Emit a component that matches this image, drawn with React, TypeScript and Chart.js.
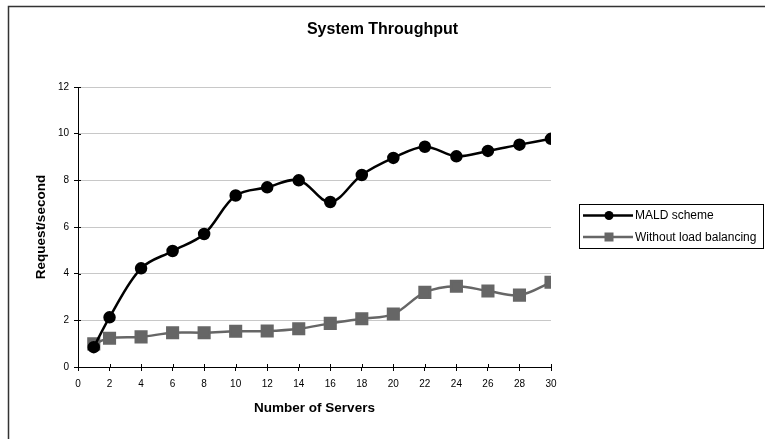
import React, { useEffect, useRef } from "react";
import { Chart, registerables } from "chart.js";

Chart.register(...registerables);

// Number of servers at which throughput was measured
const servers = [1, 2, 4, 6, 8, 10, 12, 14, 16, 18, 20, 22, 24, 26, 28, 30];
// Requests per second for each scheme
const maldScheme = [0.85, 2.13, 4.23, 4.97, 5.7, 7.35, 7.7, 8.0, 7.07, 8.23, 8.96, 9.44, 9.03, 9.26, 9.53, 9.78];
const withoutBalancing = [0.99, 1.23, 1.29, 1.47, 1.47, 1.53, 1.54, 1.64, 1.87, 2.07, 2.27, 3.2, 3.46, 3.26, 3.08, 3.63];
const seriesNames = ["MALD scheme", "Without load balancing"];
const chartTitle = "System Throughput";
const xTitle = "Number of Servers";
const yTitle = "Request/second";

const FONT = "'Liberation Sans', Arial, sans-serif";

// Tick marks that also reach a few pixels inside the plot
const innerTicks = {
  id: "innerTicks",
  afterDatasetsDraw(chart: any) {
    const { ctx, chartArea, scales } = chart;
    ctx.save();
    ctx.strokeStyle = "#000";
    ctx.lineWidth = 1;
    ctx.beginPath();
    scales.x.ticks.forEach((t: any) => {
      const px = Math.round(scales.x.getPixelForValue(t.value)) + 0.5;
      ctx.moveTo(px, chartArea.bottom);
      ctx.lineTo(px, chartArea.bottom - 3);
    });
    scales.y.ticks.forEach((t: any) => {
      const py = Math.round(scales.y.getPixelForValue(t.value)) + 0.5;
      ctx.moveTo(chartArea.left, py);
      ctx.lineTo(chartArea.left + 3, py);
    });
    ctx.stroke();
    ctx.restore();
  },
};

// Frame, title and legend drawn around the plot
const decorations = {
  id: "decorations",
  afterDraw(chart: Chart) {
    const { ctx } = chart;
    ctx.save();
    // outer chart frame
    ctx.strokeStyle = "#333";
    ctx.lineWidth = 1.5;
    ctx.strokeRect(8.5, 6.5, 800, 500);

    // title
    ctx.fillStyle = "#000";
    ctx.font = `bold 16px ${FONT}`;
    ctx.textAlign = "center";
    ctx.textBaseline = "middle";
    ctx.fillText(chartTitle, 382.5, 30);

    // legend
    const bx = 579.5, by = 204.5, bw = 184, bh = 44;
    ctx.strokeStyle = "#000";
    ctx.lineWidth = 1;
    ctx.fillStyle = "#fff";
    ctx.fillRect(bx, by, bw, bh);
    ctx.strokeRect(bx, by, bw, bh);
    ctx.font = `12px ${FONT}`;
    ctx.textAlign = "left";
    chart.data.datasets.forEach((ds: any, i: number) => {
      const y = by + 11 + i * 21.5;
      ctx.strokeStyle = ds.borderColor;
      ctx.lineWidth = ds.borderWidth;
      ctx.beginPath();
      ctx.moveTo(583, y);
      ctx.lineTo(633, y);
      ctx.stroke();
      ctx.fillStyle = ds.pointBackgroundColor;
      if (ds.pointStyle === "circle") {
        ctx.beginPath();
        ctx.arc(609, y, 4.5, 0, Math.PI * 2);
        ctx.fill();
      } else {
        ctx.fillRect(604.5, y - 4.5, 9, 9);
      }
      ctx.fillStyle = "#000";
      ctx.fillText(ds.label, 635, y + 0.5);
    });
    ctx.restore();
  },
};

export default function App() {
  const ref = useRef<HTMLCanvasElement>(null);

  useEffect(() => {
    if (!ref.current) return;
    Chart.defaults.font.family = FONT;
    const chart = new Chart(ref.current, {
      type: "line",
      data: {
        datasets: [
          {
            label: seriesNames[0],
            data: servers.map((x, i) => ({ x, y: maldScheme[i] })),
            borderColor: "#000",
            backgroundColor: "#000",
            pointBackgroundColor: "#000",
            pointBorderColor: "#000",
            pointStyle: "circle",
            pointRadius: 5,
            borderWidth: 2.5,
            tension: 0.35,
          },
          {
            label: seriesNames[1],
            data: servers.map((x, i) => ({ x, y: withoutBalancing[i] })),
            borderColor: "#666",
            backgroundColor: "#666",
            pointBackgroundColor: "#666",
            pointBorderColor: "#666",
            pointStyle: "rect",
            pointRadius: 7.5,
            borderWidth: 2.5,
            tension: 0.35,
          },
        ],
      },
      options: {
        responsive: false,
        animation: false,
        layout: { padding: { top: 87, right: 214, bottom: 0, left: 0 } },
        plugins: {
          legend: { display: false },
          tooltip: { enabled: false },
          title: { display: false },
        },
        scales: {
          x: {
            type: "linear",
            min: 0,
            max: 30,
            afterFit: (s: any) => {
              s.height = 72;
            },
            ticks: { stepSize: 2, color: "#000", font: { size: 10 }, padding: 7 },
            grid: { drawOnChartArea: false, tickLength: 4, tickColor: "#000" },
            border: { color: "#000", width: 1 },
            title: {
              display: true,
              text: xTitle,
              color: "#000",
              font: { size: 13.5, weight: "bold" },
              padding: { top: 0, bottom: 23 },
            },
          },
          y: {
            min: 0,
            max: 12,
            afterFit: (s: any) => {
              s.width = 78;
            },
            ticks: { stepSize: 2, color: "#000", font: { size: 10 }, padding: 5 },
            grid: { color: "#c8c8c8", tickLength: 4, tickColor: "#000" },
            border: { color: "#000", width: 1 },
            title: {
              display: true,
              text: yTitle,
              color: "#000",
              font: { size: 13.5, weight: "bold" },
              padding: { top: 33, bottom: 0 },
            },
          },
        },
      },
      plugins: [innerTicks, decorations],
    });
    return () => chart.destroy();
  }, []);

  return (
    <div style={{ position: "fixed", left: 0, top: 0, width: 765, height: 439, background: "#fff" }}>
      <canvas ref={ref} width={765} height={439} style={{ display: "block" }} />
    </div>
  );
}
